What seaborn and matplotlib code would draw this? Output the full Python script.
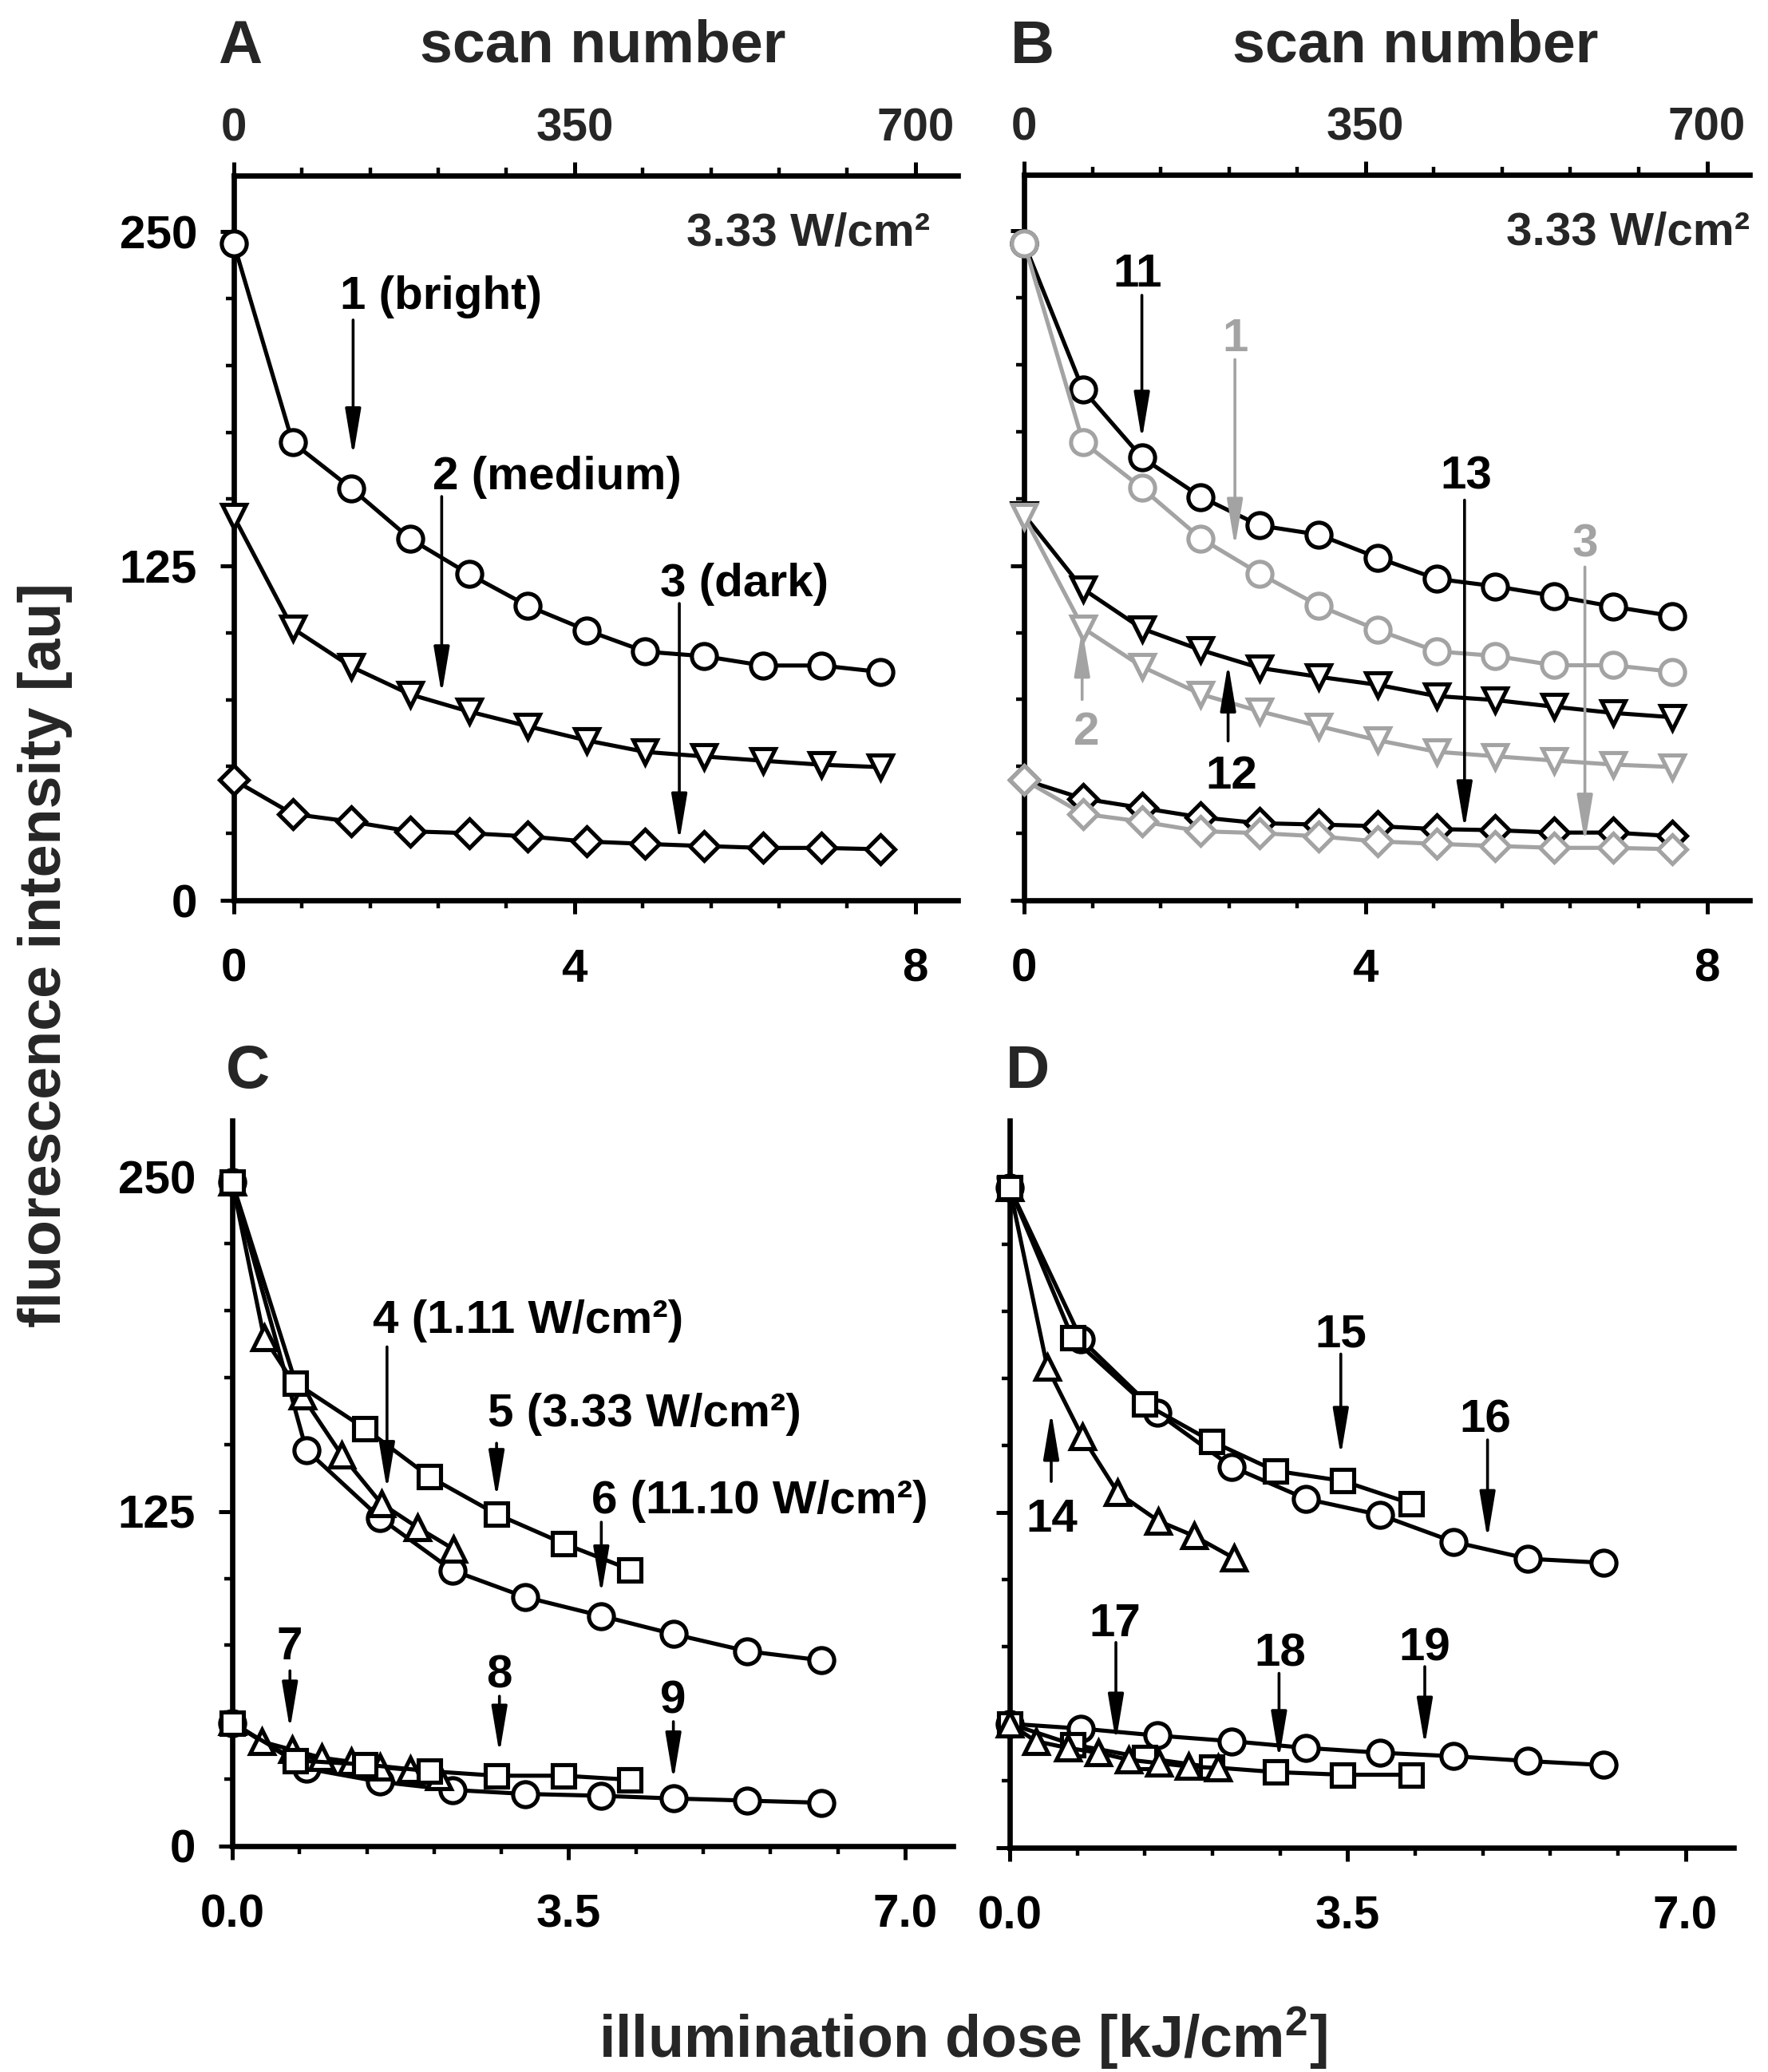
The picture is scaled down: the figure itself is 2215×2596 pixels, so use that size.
import matplotlib
matplotlib.use("Agg")
import matplotlib.pyplot as plt
import seaborn as sns
from matplotlib.ticker import MultipleLocator, FixedLocator, FixedFormatter

sns.set_theme(style="white")
plt.rcParams["font.family"] = ["Liberation Sans", "DejaVu Sans"]
plt.rcParams["font.weight"] = "bold"
plt.rcParams["mathtext.fontset"] = "custom"
plt.rcParams["mathtext.rm"] = "Liberation Sans:bold"
plt.rcParams["mathtext.bf"] = "Liberation Sans:bold"
plt.rcParams["mathtext.it"] = "Liberation Sans:bold"

# ---------------- data ----------------
# Panel A / B : 3.33 W/cm2, dose [kJ/cm2]
dose_AB = [0, 0.69, 1.38, 2.07, 2.76, 3.45, 4.14, 4.83, 5.52, 6.21, 6.90, 7.59]
A_bright = [245.5, 171.2, 154.0, 135.2, 122.0, 110.1, 101.0, 93.0, 91.3, 87.8, 87.8, 85.4]
A_medium = [143.5, 101.7, 87.3, 77.0, 70.6, 65.1, 59.8, 55.5, 53.8, 52.2, 50.7, 49.8]
A_dark = [45.0, 32.3, 29.4, 25.8, 25.1, 23.9, 22.0, 21.1, 20.3, 19.6, 19.6, 19.1]
B_11 = [245.5, 190.7, 165.4, 150.7, 140.0, 136.6, 128.0, 120.1, 117.3, 113.7, 109.7, 106.2]
B_12 = [144.0, 116.3, 101.5, 93.5, 86.8, 83.5, 80.5, 76.3, 74.8, 72.3, 70.0, 68.4]
B_13 = [45.0, 38.0, 34.5, 31.0, 28.8, 28.3, 27.7, 26.6, 26.2, 25.3, 25.3, 24.0]

# Panel C : different intensities
C_circ_x = [0, 0.77, 1.54, 2.29, 3.05, 3.84, 4.59, 5.36, 6.13]
C_circ_hi = [248.0, 148.0, 122.5, 103.0, 93.0, 86.0, 79.2, 72.8, 69.4]
C_circ_lo = [46.0, 29.0, 24.0, 21.0, 19.5, 18.8, 17.8, 17.0, 16.2]
C_sq_x = [0, 0.66, 1.38, 2.05, 2.75, 3.45, 4.14]
C_sq_hi = [248.0, 173.0, 156.0, 138.0, 124.0, 113.0, 103.3]
C_sq_lo = [46.0, 32.0, 30.5, 28.0, 26.3, 26.3, 24.8]
C_tri_hi_x = [0, 0.33, 0.73, 1.14, 1.55, 1.93, 2.30]
C_tri_hi = [248.0, 190.0, 168.0, 146.0, 128.0, 119.0, 111.0]
C_tri_lo_x = [0, 0.31, 0.62, 0.93, 1.24, 1.54, 1.85, 2.15]
C_tri_lo = [46.5, 39.0, 36.0, 33.0, 31.5, 29.5, 28.5, 26.0]

# Panel D
D_circ_x = [0, 0.74, 1.53, 2.30, 3.07, 3.84, 4.60, 5.37, 6.15]
D_circ_hi = [246.0, 189.5, 162.0, 142.0, 130.0, 124.0, 114.0, 107.7, 106.2]
D_circ_lo = [46.2, 44.4, 41.8, 39.7, 37.2, 35.4, 34.1, 32.3, 30.8]
D_sq_x = [0, 0.65, 1.40, 2.09, 2.75, 3.45, 4.16]
D_sq_hi = [246.0, 190.0, 165.4, 151.5, 140.5, 136.7, 128.2]
D_sq_lo = [46.2, 38.5, 33.5, 30.0, 28.2, 27.2, 27.2]
D_tri_hi_x = [0, 0.39, 0.75, 1.12, 1.54, 1.91, 2.32]
D_tri_hi = [246.0, 179.0, 153.3, 132.3, 121.8, 116.2, 108.0]
D_tri_lo_x = [0, 0.27, 0.60, 0.92, 1.23, 1.55, 1.85, 2.16]
D_tri_lo = [46.2, 39.7, 37.2, 35.4, 32.8, 31.5, 30.3, 29.7]

y_ticks = [0, 125, 250]
x_ticks_AB = [0, 4, 8]
x_ticks_CD = [0.0, 3.5, 7.0]
x_ticklabels_CD = ["0.0", "3.5", "7.0"]
scan_ticks = [0, 350, 700]
scans_per_dose = 87.5

# ---------------- layout ----------------
W, H = 2215, 2596
fig = plt.figure(figsize=(W / 100, H / 100), dpi=100)
fig.patch.set_facecolor("white")


def rect(l, r, t, b):
    return [l / W, 1 - b / H, (r - l) / W, (b - t) / H]


axA = fig.add_axes(rect(293, 1200, 220, 1128))
axB = fig.add_axes(rect(1283, 2192, 219, 1128))
axC = fig.add_axes(rect(291, 1194, 1404, 2313))
axD = fig.add_axes(rect(1265, 2172, 1404, 2315))

GRAY = "#a3a3a3"
TICK_FS = 42
ANN_FS = 42
SPINE_LW = 4.8


def style(ax, xmax, xmajor, xlabels, xminor, show_y):
    ax.set_facecolor("white")
    ax.set_xlim(0, xmax)
    ax.set_ylim(0, 271)
    for s in ["right", "top"]:
        ax.spines[s].set_visible(False)
    for s in ["left", "bottom"]:
        ax.spines[s].set_visible(True)
        ax.spines[s].set_linewidth(SPINE_LW)
        ax.spines[s].set_color("black")
    ax.xaxis.set_major_locator(FixedLocator(xmajor))
    ax.xaxis.set_major_formatter(FixedFormatter(xlabels))
    ax.xaxis.set_minor_locator(MultipleLocator(xminor))
    ax.yaxis.set_major_locator(FixedLocator(y_ticks))
    ax.yaxis.set_minor_locator(MultipleLocator(25))
    ax.tick_params(which="major", direction="out", length=12, width=3.6,
                   color="black", labelsize=TICK_FS, labelcolor="black",
                   bottom=True, left=True, top=False, right=False)
    ax.tick_params(which="minor", direction="out", length=7, width=3.2,
                   color="black", bottom=True, left=True, top=False, right=False)
    ax.tick_params(axis="x", which="major", pad=31)
    ax.tick_params(axis="y", which="major", pad=21)
    ax.tick_params(labelleft=show_y)
    for lab in ax.get_xticklabels() + ax.get_yticklabels():
        lab.set_fontweight("bold")
    ax.set_xlabel("")
    ax.set_ylabel("")
    ax.grid(False)


def add_scan_axis(ax):
    sec = ax.secondary_xaxis("top", functions=(lambda d: d * scans_per_dose,
                                               lambda s: s / scans_per_dose))
    sec.xaxis.set_major_locator(FixedLocator(scan_ticks))
    sec.xaxis.set_major_formatter(FixedFormatter([str(v) for v in scan_ticks]))
    sec.xaxis.set_minor_locator(MultipleLocator(70))
    sec.tick_params(which="major", direction="out", length=12, width=3.6,
                    color="black", labelsize=TICK_FS, pad=11, top=True)
    sec.tick_params(which="minor", direction="out", length=7, width=3.2,
                    color="black", top=True)
    sec.spines["top"].set_linewidth(SPINE_LW)
    sec.spines["top"].set_color("black")
    for lab in sec.get_xticklabels():
        lab.set_fontweight("bold")


def series(ax, x, y, marker, ms, color="black", z=3):
    sns.lineplot(x=x, y=y, ax=ax, color=color, marker=marker, markersize=ms,
                 markerfacecolor="white", markeredgecolor=color,
                 markeredgewidth=3.7, linewidth=3.7, errorbar=None, sort=False,
                 clip_on=False, zorder=z, legend=False)


def arrow(ax, x, y0, y1, color="black"):
    ax.annotate("", xy=(x, y1), xytext=(x, y0),
                arrowprops=dict(arrowstyle="-|>,head_length=1.8,head_width=0.3",
                                color=color, lw=2.6, shrinkA=0, shrinkB=0,
                                mutation_scale=20), zorder=6)


def label(ax, x, y, s, ha="center", color="black"):
    ax.text(x, y, s, ha=ha, va="center_baseline", fontsize=ANN_FS,
            fontweight="bold", color=color, zorder=7)


MS_O, MS_V, MS_D, MS_S, MS_T = 22.5, 21, 18.5, 20, 21

# ---------------- Panel A ----------------
series(axA, dose_AB, A_bright, "o", MS_O)
series(axA, dose_AB, A_medium, "v", MS_V)
series(axA, dose_AB, A_dark, "D", MS_D)
style(axA, 8.5, x_ticks_AB, [str(v) for v in x_ticks_AB], 0.8, True)
add_scan_axis(axA)
label(axA, 1.25, 227.5, "1 (bright)", ha="left")
arrow(axA, 1.40, 217, 166)
label(axA, 2.33, 160, "2 (medium)", ha="left")
arrow(axA, 2.44, 151, 77)
label(axA, 5.0, 120, "3 (dark)", ha="left")
arrow(axA, 5.23, 111, 22)
axA.text(8.17, 251, "3.33 W/cm²", ha="right", va="center_baseline",
         fontsize=ANN_FS, fontweight="bold")

# ---------------- Panel B ----------------
series(axB, dose_AB, B_11, "o", MS_O, z=3)
series(axB, dose_AB, B_12, "v", MS_V, z=3)
series(axB, dose_AB, B_13, "D", MS_D, z=3)
series(axB, dose_AB, A_bright, "o", MS_O, color=GRAY, z=4)
series(axB, dose_AB, A_medium, "v", MS_V, color=GRAY, z=4)
series(axB, dose_AB, A_dark, "D", MS_D, color=GRAY, z=4)
style(axB, 8.5, x_ticks_AB, [str(v) for v in x_ticks_AB], 0.8, False)
add_scan_axis(axB)
label(axB, 1.33, 235.5, "11")
arrow(axB, 1.38, 226, 172)
label(axB, 2.47, 211.5, "1", color=GRAY)
arrow(axB, 2.47, 202, 132, color=GRAY)
label(axB, 5.18, 160, "13")
arrow(axB, 5.16, 149.5, 26.5)
label(axB, 6.57, 134.5, "3", color=GRAY)
arrow(axB, 6.57, 124.5, 21.5, color=GRAY)
label(axB, 0.73, 64.5, "2", color=GRAY)
arrow(axB, 0.68, 75, 101.5, color=GRAY)
label(axB, 2.43, 48, "12")
arrow(axB, 2.39, 59.5, 88.5)
axB.text(8.5, 251, "3.33 W/cm²", ha="right", va="center_baseline",
         fontsize=ANN_FS, fontweight="bold")

# ---------------- Panel C ----------------
series(axC, C_circ_x, C_circ_hi, "o", MS_O)
series(axC, C_circ_x, C_circ_lo, "o", MS_O)
series(axC, C_tri_hi_x, C_tri_hi, "^", MS_T)
series(axC, C_tri_lo_x, C_tri_lo, "^", MS_T)
series(axC, C_sq_x, C_sq_hi, "s", MS_S)
series(axC, C_sq_x, C_sq_lo, "s", MS_S)
style(axC, 7.5, x_ticks_CD, x_ticklabels_CD, 0.7, True)
label(axC, 1.46, 198, "4 (1.11 W/cm²)", ha="left")
arrow(axC, 1.61, 186.5, 133)
label(axC, 2.66, 163, "5 (3.33 W/cm²)", ha="left")
arrow(axC, 2.75, 150.5, 130)
label(axC, 3.74, 130.5, "6 (11.10 W/cm²)", ha="left")
arrow(axC, 3.84, 121, 94)
label(axC, 0.60, 76, "7")
arrow(axC, 0.60, 65.5, 43.5)
label(axC, 2.78, 65.5, "8")
arrow(axC, 2.78, 56, 34.5)
label(axC, 4.59, 56, "9")
arrow(axC, 4.59, 46.5, 24.5)

# ---------------- Panel D ----------------
series(axD, D_circ_x, D_circ_hi, "o", MS_O)
series(axD, D_circ_x, D_circ_lo, "o", MS_O)
series(axD, D_sq_x, D_sq_lo, "s", MS_S)
series(axD, D_tri_lo_x, D_tri_lo, "^", MS_T)
series(axD, D_tri_hi_x, D_tri_hi, "^", MS_T)
series(axD, D_sq_x, D_sq_hi, "s", MS_S)
style(axD, 7.5, x_ticks_CD, x_ticklabels_CD, 0.7, False)
label(axD, 3.43, 193, "15")
arrow(axD, 3.43, 184, 146)
label(axD, 4.93, 161, "16")
arrow(axD, 4.95, 152, 115)
label(axD, 0.44, 124, "14")
arrow(axD, 0.43, 136.5, 162.5)
label(axD, 1.09, 85, "17")
arrow(axD, 1.10, 76.5, 39.5)
label(axD, 2.80, 74, "18")
arrow(axD, 2.79, 65, 33)
label(axD, 4.30, 76, "19")
arrow(axD, 4.30, 67.5, 38)

# ---------------- figure texts ----------------
BIG = 53
fig.text(273 / W, 1 - 79 / H, "A", ha="left", va="baseline", fontsize=55, fontweight="bold")
fig.text(1266 / W, 1 - 79 / H, "B", ha="left", va="baseline", fontsize=55, fontweight="bold")
fig.text(283 / W, 1 - 1363 / H, "C", ha="left", va="baseline", fontsize=55, fontweight="bold")
fig.text(1260 / W, 1 - 1363 / H, "D", ha="left", va="baseline", fontsize=55, fontweight="bold")
fig.text(755 / W, 1 - 78 / H, "scan number", ha="center", va="baseline", fontsize=BIG, fontweight="bold")
fig.text(1773 / W, 1 - 78 / H, "scan number", ha="center", va="baseline", fontsize=BIG, fontweight="bold")
fig.text(1206 / W, 1 - 2578 / H, r"illumination dose [kJ/cm$^{\mathbf{2}}$]", ha="center",
         va="baseline", fontsize=BIG, fontweight="bold")
fig.text(57 / W, 1 - 1197 / H, "fluorescence intensity [au]", rotation=90, ha="center",
         va="center", fontsize=BIG, fontweight="bold")

fig.savefig("out.png", dpi=100, facecolor="white")
